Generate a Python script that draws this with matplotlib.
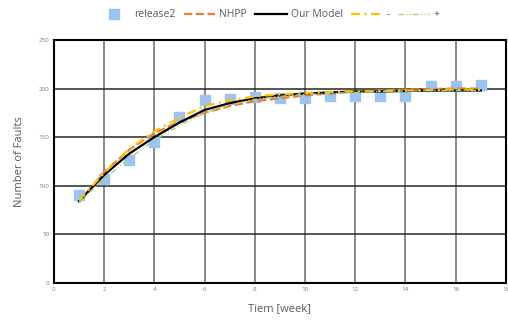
import matplotlib.pyplot as plt

plt.rcParams['font.family'] = ['Open Sans', 'DejaVu Sans']

# data
weeks = list(range(1, 18))
release2 = [90, 107, 126, 145, 171, 188, 189, 191, 190, 190, 192, 192, 192, 192, 203, 203, 204]
nhpp = [83, 114, 137, 154, 166, 175, 182, 187, 190, 193, 195, 197, 198, 199, 199.5, 200, 200]
our_model = [84, 111, 133, 150, 165, 178, 185, 190, 193, 195, 196, 197, 197, 197.5, 198, 198, 198]
minus = [85, 113, 138, 156, 170, 182, 188, 192, 194, 195.5, 196.5, 197, 197.5, 198, 198.5, 199, 199]
plus = [83, 107, 128, 147, 162, 175, 183, 189, 192, 194, 195, 196, 197, 197.5, 198, 198, 198]

fig = plt.figure(figsize=(5.08, 3.2), dpi=100)
ax = fig.add_axes([0.106, 0.116, 0.89, 0.759])

ax.plot(weeks, release2, 's', color='#9DC3F0', markersize=7, label='release2', zorder=3)
ax.plot(weeks, nhpp, '--', color='#ED7D31', lw=1.6, label='NHPP', zorder=4)
ax.plot(weeks, our_model, '-', color='black', lw=1.6, label='Our Model', zorder=5)
ax.plot(weeks, minus, color='#FFC000', lw=1.6, dashes=(4, 2, 1, 2), label='-', zorder=6)
ax.plot(weeks, plus, color='#A9D18E', lw=1.0, dashes=(4, 1.5, 1, 1.5, 1, 1.5), label='+', zorder=6)

ax.set_xlim(0, 18)
ax.set_ylim(0, 250)
ax.set_xticks(range(0, 19, 2))
ax.set_yticks(range(0, 251, 50))
ax.xaxis.grid(True, color='#7f7f7f', lw=1.3)
ax.yaxis.grid(True, color='#262626', lw=1.1)
ax.set_axisbelow(True)
for s in ax.spines.values():
    s.set_linewidth(1.5)
    s.set_color('black')
ax.tick_params(length=0, labelsize=4.5, labelcolor='#7f7f7f', pad=3)

ax.set_xlabel('Tiem [week]', fontsize=8, color='#595959', labelpad=8)
ax.set_ylabel('Number of Faults', fontsize=8, color='#595959', labelpad=10)

fig.legend(loc='upper center', bbox_to_anchor=(0.53, 1.0), ncol=5, frameon=False,
           fontsize=7.5, labelcolor='#595959', handlelength=3.0, columnspacing=0.8,
           handletextpad=0.4)

fig.savefig('out.png', dpi=100)
